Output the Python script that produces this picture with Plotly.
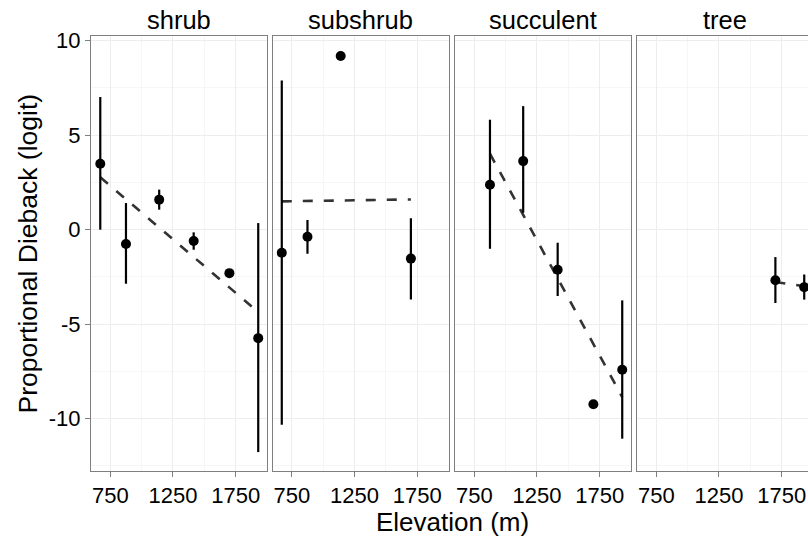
import plotly.graph_objects as go

# ---------------- data ----------------
facets = ["shrub", "subshrub", "succulent", "tree"]

shrub_x = [670, 875, 1140, 1415, 1700, 1930]
shrub_y = [3.49, -0.76, 1.59, -0.60, -2.30, -5.74]
shrub_lo = [0.00, -2.86, 1.06, -1.06, -2.30, -11.77]
shrub_hi = [7.02, 1.41, 2.12, -0.14, -2.30, 0.35]
shrub_fit_x = [670, 1930]
shrub_fit_y = [2.77, -4.36]

subshrub_x = [670, 875, 1140, 1700]
subshrub_y = [-1.22, -0.37, 9.19, -1.53]
subshrub_lo = [-10.32, -1.27, 9.19, -3.70]
subshrub_hi = [7.90, 0.51, 9.19, 0.60]
subshrub_fit_x = [670, 1700]
subshrub_fit_y = [1.50, 1.60]

succulent_x = [875, 1140, 1415, 1700, 1930]
succulent_y = [2.38, 3.63, -2.12, -9.24, -7.41]
succulent_lo = [-1.01, 0.90, -3.51, -9.24, -11.06]
succulent_hi = [5.82, 6.54, -0.69, -9.24, -3.74]
succulent_fit_x = [875, 1930]
succulent_fit_y = [4.02, -8.86]

tree_x = [1700, 1930]
tree_y = [-2.68, -3.04]
tree_lo = [-3.88, -3.70]
tree_hi = [-1.45, -2.37]
tree_fit_x = [1700, 1930]
tree_fit_y = [-2.77, -2.99]

x_ticks = [750, 1250, 1750]
x_minor = [1000, 1500]
y_ticks = [-10, -5, 0, 5, 10]
y_minor = [-12.5, -7.5, -2.5, 2.5, 7.5]

data = {
    "shrub": (shrub_x, shrub_y, shrub_lo, shrub_hi, shrub_fit_x, shrub_fit_y),
    "subshrub": (subshrub_x, subshrub_y, subshrub_lo, subshrub_hi, subshrub_fit_x, subshrub_fit_y),
    "succulent": (succulent_x, succulent_y, succulent_lo, succulent_hi, succulent_fit_x, succulent_fit_y),
    "tree": (tree_x, tree_y, tree_lo, tree_hi, tree_fit_x, tree_fit_y),
}

# ---------------- layout geometry ----------------
W, H = 808, 537
ML, MR, MT, MB = 91, 0, 36, 66
PW = W - ML - MR
panel_left = [91, 272.5, 455, 637]
panel_w = 176
xr = [596, 2000]
px_per_m = panel_w / (xr[1] - xr[0])
yr = [-12.77, 10.25]

FONT = "Liberation Sans, Arial, sans-serif"
BORDER = "#7f7f7f"
GRID = "#ededed"
GRIDMIN = "#f6f6f6"

fig = go.Figure()
annotations = []

for i, f in enumerate(facets):
    xs, ys, lo, hi, fx, fy = data[f]
    n = "" if i == 0 else str(i + 1)
    xa, ya = "x" + n, "y" + n
    fig.add_trace(go.Scatter(
        x=fx, y=fy, mode="lines", xaxis=xa, yaxis=ya,
        line=dict(color="#333333", width=2.6, dash="10px,11px"),
        showlegend=False, hoverinfo="skip"))
    fig.add_trace(go.Scatter(
        x=xs, y=ys, mode="markers", xaxis=xa, yaxis=ya,
        marker=dict(color="black", size=10),
        error_y=dict(type="data", symmetric=False,
                     array=[h - y for h, y in zip(hi, ys)],
                     arrayminus=[y - l for y, l in zip(ys, lo)],
                     color="black", thickness=2.2, width=0),
        showlegend=False))

    L = panel_left[i]
    last = i == len(facets) - 1
    R = W - MR if last else L + panel_w
    d0 = (L - ML) / PW
    d1 = (R - ML) / PW
    rng = [xr[0], xr[0] + (R - L) / px_per_m]

    fig.layout["xaxis" + n] = dict(
        domain=[d0, d1], range=rng, anchor=ya,
        tickvals=x_ticks, ticktext=[str(v) for v in x_ticks],
        ticks="outside", ticklen=5, tickcolor=BORDER, tickwidth=1,
        tickfont=dict(size=22, color="black", family=FONT),
        showgrid=True, gridcolor=GRID, gridwidth=1,
        minor=dict(tickvals=x_minor, showgrid=True, gridcolor=GRIDMIN, gridwidth=1, ticks=""),
        showline=True, mirror=True, linecolor=BORDER, linewidth=1,
        zeroline=False, fixedrange=True)
    fig.layout["yaxis" + n] = dict(
        domain=[0, 1], range=yr, anchor=xa,
        tickvals=y_ticks, ticktext=[str(v) for v in y_ticks],
        ticks="outside" if i == 0 else "", ticklen=5, tickcolor=BORDER, tickwidth=1,
        showticklabels=(i == 0),
        tickfont=dict(size=22, color="black", family=FONT),
        showgrid=True, gridcolor=GRID, gridwidth=1,
        minor=dict(tickvals=y_minor, showgrid=True, gridcolor=GRIDMIN, gridwidth=1, ticks=""),
        showline=True, mirror=(not last), linecolor=BORDER, linewidth=1,
        zeroline=False, fixedrange=True)

    cx = ((L + L + panel_w) / 2 - ML) / PW
    annotations.append(dict(
        text=f, x=cx, y=1, xref="paper", yref="paper",
        xanchor="center", yanchor="bottom", yshift=0, showarrow=False,
        font=dict(size=25.5, color="black", family=FONT)))

annotations.append(dict(
    text="Elevation (m)", x=((91 + 813) / 2 - ML) / PW, y=0,
    xref="paper", yref="paper", xanchor="center", yanchor="middle",
    yshift=-51, showarrow=False,
    font=dict(size=26, color="black", family=FONT)))
annotations.append(dict(
    text="Proportional Dieback (logit)", x=0, y=0.5,
    xref="paper", yref="paper", xanchor="center", yanchor="middle",
    xshift=-64, textangle=-90, showarrow=False,
    font=dict(size=26.5, color="black", family=FONT)))

fig.update_layout(
    width=W, height=H,
    margin=dict(l=ML, r=MR, t=MT, b=MB),
    paper_bgcolor="white", plot_bgcolor="white",
    annotations=annotations,
    font=dict(family=FONT, color="black"),
    showlegend=False)

fig.write_html("out.html",
               config={"displayModeBar": False, "staticPlot": True},
               post_script="document.body.style.margin='0';document.body.style.overflow='hidden';")
